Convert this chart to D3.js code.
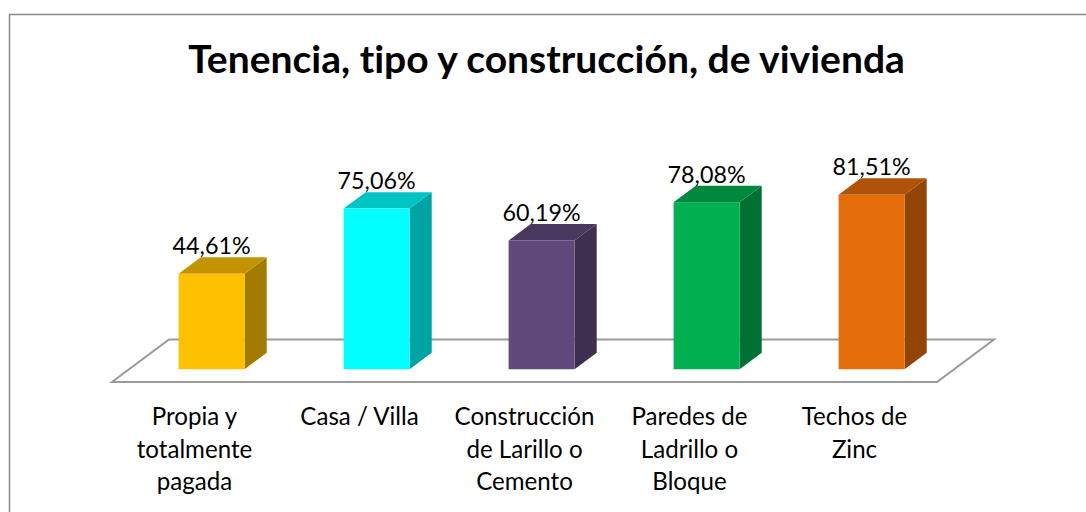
<!DOCTYPE html>
<html>
<head>
<meta charset="utf-8">
<script src="https://cdn.jsdelivr.net/npm/d3@7"></script>
<style>
  html, body { margin: 0; padding: 0; background: #fff; }
  svg { display: block; }
  text { font-family: Lato, "Open Sans", "DejaVu Sans", sans-serif; fill: #000;
         font-variant-ligatures: none; font-feature-settings: "liga" 0, "dlig" 0; }
</style>
</head>
<body>
<svg id="chart" width="1086" height="512"></svg>
<script>
// ---- data ----
const categories = [
  "Propia y totalmente pagada",
  "Casa / Villa",
  "Construcción de Larillo o Cemento",
  "Paredes de Ladrillo o Bloque",
  "Techos de Zinc"
];
const categoryLines = [
  ["Propia y", "totalmente", "pagada"],
  ["Casa / Villa"],
  ["Construcción", "de Larillo o", "Cemento"],
  ["Paredes de", "Ladrillo o", "Bloque"],
  ["Techos de", "Zinc"]
];
const values = [44.61, 75.06, 60.19, 78.08, 81.51];
const valueLabels = ["44,61%", "75,06%", "60,19%", "78,08%", "81,51%"];
const barColors = ["#FFC000", "#00FFFF", "#604A7B", "#00B050", "#E46C0A"];
const title = "Tenencia, tipo y construcción, de vivienda";

// ---- layout ----
const svg = d3.select("#chart");
const W = 1086, H = 512;

// chart border
svg.append("rect")
  .attr("x", 9.5).attr("y", 14.5)
  .attr("width", W + 20).attr("height", H + 20)
  .attr("fill", "#fff").attr("stroke", "#8c8c8c").attr("stroke-width", 1.5);

// helper to fit font size to a target width
function fitSize(str, targetW, weight) {
  const t = svg.append("text").attr("font-size", 100).attr("font-weight", weight).text(str);
  const w = t.node().getComputedTextLength();
  t.remove();
  return 100 * targetW / w;
}

// floor geometry (front edge, and depth vector)
const floorX0 = 112, floorX1 = 937, floorFrontY = 382;
const depthDX = 57, depthDY = -42.5;
const barDepthStart = 0.3, barDepthFrac = 0.388;

const x = d3.scaleBand().domain(categories).range([floorX0, floorX1]).paddingInner(0).paddingOuter(0);
const barW = 66;
const baseY = floorFrontY + barDepthStart * depthDY;      // front bottom of bars
const y = d3.scaleLinear().domain([0, 100]).range([baseY, baseY - 214]);

// floor
const floorPts = [
  [floorX0, floorFrontY],
  [floorX1, floorFrontY],
  [floorX1 + depthDX, floorFrontY + depthDY],
  [floorX0 + depthDX, floorFrontY + depthDY]
];
svg.append("polygon")
  .attr("points", floorPts.map(p => p.join(",")).join(" "))
  .attr("fill", "#fff").attr("stroke", "#9a9a9a").attr("stroke-width", 2)
  .attr("stroke-linejoin", "miter");

// bars
const bdx = barDepthFrac * depthDX, bdy = barDepthFrac * depthDY;
const shiftX = barDepthStart * depthDX;

function shade(c, k) {
  const r = d3.rgb(c);
  return d3.rgb(r.r * k, r.g * k, r.b * k).formatHex();
}

const g = svg.append("g");
categories.forEach((cat, i) => {
  const x0 = x(cat) + shiftX + (x.bandwidth() - barW) / 2;
  const x1 = x0 + barW;
  const yt = y(values[i]);
  const yb = y(0);
  const col = barColors[i];
  g.append("polygon")
    .attr("points", [[x1, yb], [x1 + bdx, yb + bdy], [x1 + bdx, yt + bdy], [x1, yt]].map(p => p.join(",")).join(" "))
    .attr("fill", shade(col, 0.64));
  g.append("polygon")
    .attr("points", [[x0, yt], [x1, yt], [x1 + bdx, yt + bdy], [x0 + bdx, yt + bdy]].map(p => p.join(",")).join(" "))
    .attr("fill", shade(col, 0.77));
  g.append("rect")
    .attr("x", x0).attr("y", yt).attr("width", barW).attr("height", yb - yt)
    .attr("fill", col);
});

// value labels
const valSize = fitSize("60,19%", 78, "normal");
categories.forEach((cat, i) => {
  const x0 = x(cat) + shiftX + (x.bandwidth() - barW) / 2;
  svg.append("text")
    .attr("x", x0 + barW / 2)
    .attr("y", y(values[i]) + bdy - 3)
    .attr("text-anchor", "middle")
    .attr("font-size", valSize)
    .text(valueLabels[i]);
});

// category labels
const catSize = fitSize("Construcción", 140, "normal");
categories.forEach((cat, i) => {
  const t = svg.append("text")
    .attr("x", x(cat) + x.bandwidth() / 2)
    .attr("y", 425)
    .attr("text-anchor", "middle")
    .attr("font-size", catSize);
  categoryLines[i].forEach((ln, j) => {
    t.append("tspan")
      .attr("x", x(cat) + x.bandwidth() / 2)
      .attr("y", 425 + j * 32.5)
      .text(ln);
  });
});

// title
const titleSize = fitSize(title, 717, "bold");
svg.append("text")
  .attr("x", 546.5).attr("y", 73.3)
  .attr("text-anchor", "middle")
  .attr("font-weight", "bold")
  .attr("font-size", titleSize)
  .text(title);
</script>
</body>
</html>
